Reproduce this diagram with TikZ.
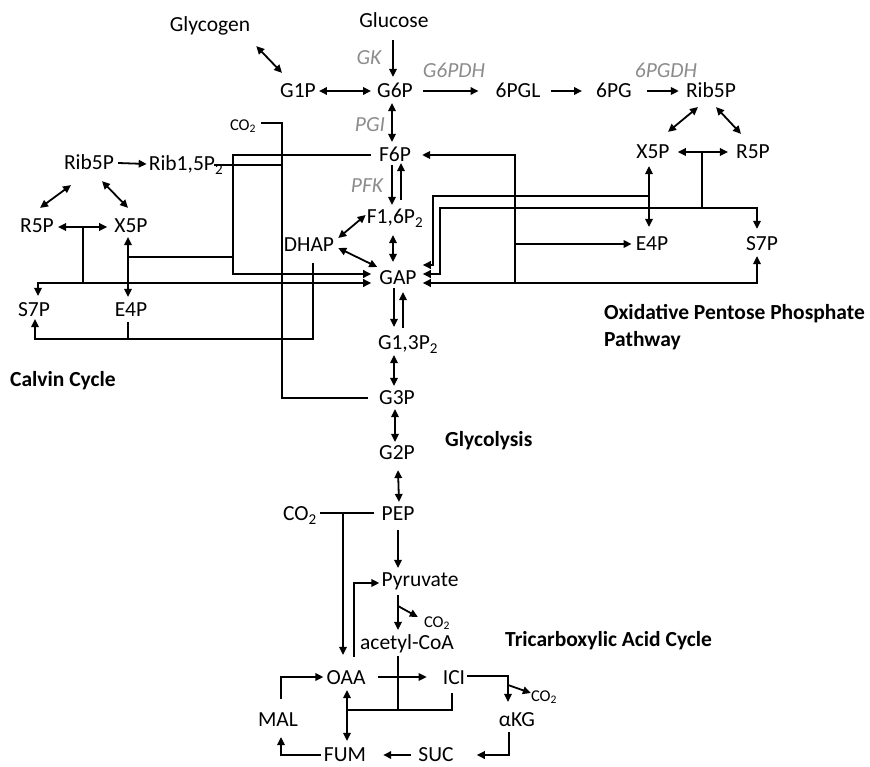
\documentclass[tikz,border=0pt]{standalone}
\usepackage{fontspec}
\setmainfont{Carlito}
\usetikzlibrary{arrows.meta,calc}
\definecolor{enzgray}{RGB}{140,140,140}
\begin{document}
\begin{tikzpicture}[x=1pt,y=-1pt,
  every node/.style={inner sep=0pt, text height=13.8pt, text depth=0pt, font=\fontsize{21.5}{24}\selectfont},
  enz/.style={text=enzgray, font=\fontsize{21.5}{24}\selectfont\itshape},
  sm/.style={font=\fontsize{16.5}{18}\selectfont, text height=10.6pt},
  lab/.style={font=\fontsize{21.5}{24}\selectfont\bfseries, anchor=west},
  ln/.style={line width=1.8pt},
  ar/.style={ln,-{Triangle[length=8pt,width=7.5pt]}},
  dar/.style={ln,{Triangle[length=8pt,width=7.5pt]}-{Triangle[length=8pt,width=7.5pt]}},
]
\useasboundingbox (0,0) rectangle (870,767);
% ---------- nodes ----------
\node (glycogen) at (210,25) {Glycogen};
\node (glucose) at (394,21) {Glucose};
\node[enz] (gk) at (369,58) {GK};
\node (g1p) at (298,91) {G1P};
\node (g6p) at (395,91) {G6P};
\node[enz] (g6pdh) at (454,71) {G6PDH};
\node (pgl) at (518,91) {6PGL};
\node (pg) at (614,91) {6PG};
\node[enz] (pgdh) at (666,71) {6PGDH};
\node (rib5pr) at (711,91) {Rib5P};
\node (x5pr) at (653,152) {X5P};
\node (r5pr) at (753,152) {R5P};
\node (e4pr) at (652,244) {E4P};
\node (s7pr) at (762,244) {S7P};
\node[enz] (pgi) at (370,125) {PGI};
\node (f6p) at (395,155) {F6P};
\node[enz] (pfk) at (367,186) {PFK};
\node (f16) at (395,217) {F1,6P\textsubscript{2}};
\node (dhap) at (309,245) {DHAP};
\node (gap) at (398,278) {GAP};
\node[sm] (co2t) at (243,125) {CO\textsubscript{2}};
\node (rib5pl) at (89,163) {Rib5P};
\node (rib15) at (186,164) {Rib1,5P\textsubscript{2}};
\node (r5pl) at (37,226) {R5P};
\node (x5pl) at (131,226) {X5P};
\node (s7pl) at (34,310) {S7P};
\node (e4pl) at (131,310) {E4P};
\node (g13) at (408,343) {G1,3P\textsubscript{2}};
\node (g3p) at (397,398) {G3P};
\node (g2p) at (397,453) {G2P};
\node (pep) at (398,514) {PEP};
\node (co2p) at (300,514) {CO\textsubscript{2}};
\node (pyr) at (420,580) {Pyruvate};
\node[sm] (co2y) at (437,622) {CO\textsubscript{2}};
\node (acoa) at (407,643) {acetyl-CoA};
\node (oaa) at (346,678) {OAA};
\node (ici) at (454,678) {ICI};
\node[sm] (co2i) at (544,696) {CO\textsubscript{2}};
\node (akg) at (517,720) {αKG};
\node (mal) at (278,720) {MAL};
\node (fum) at (345,755) {FUM};
\node (suc) at (436,755) {SUC};
\node[lab] (calvin) at (10,380) {Calvin Cycle};
\node[lab] (glyco) at (445,440) {Glycolysis};
\node[lab] (tca) at (505,640) {Tricarboxylic Acid Cycle};
\node[lab] (opp1) at (604,313) {Oxidative Pentose Phosphate};
\node[lab] (opp2) at (604,340) {Pathway};
% ---------- junction coordinates ----------
\coordinate (tr) at (702,152);
\coordinate (j2) at (440,208);
\coordinate (j3) at (649,196);
\coordinate (j4) at (433,265);
\coordinate (j5) at (515,283);
\coordinate (j6) at (515,244);
\coordinate (j7) at (35,339);
\coordinate (j8) at (233,274);
\coordinate (j9) at (233,257);
\coordinate (tl) at (83,227);
\coordinate (jc3) at (282,398);
\coordinate (jt) at (343,513);
\coordinate (jp) at (398,606);
\coordinate (ji) at (508,685);
\coordinate (jo) at (347,710);
% ---------- top ----------
\draw[ar] ([shift={(-1,12)}]glucose.south) -- ([shift={(-2,-7)}]g6p.north);
\draw[dar] ([shift={(6,14)}]glycogen.south east) -- ([shift={(2,-11)}]g1p.north west);
\draw[dar] ([shift={(3,0)}]g1p.east) -- ([shift={(-6,0)}]g6p.west);
\draw[ar] ([shift={(10,0)}]g6p.east) -- ([shift={(-17,0)}]pgl.west);
\draw[ar] ([shift={(10,0)}]pgl.east) -- ([shift={(-14,0)}]pg.west);
\draw[ar] ([shift={(15,0)}]pg.east) -- ([shift={(-7,0)}]rib5pr.west);
% ---------- pentose phosphate (right) ----------
\draw[dar] ([shift={(-13,9)}]rib5pr.south) -- ([shift={(15,-13)}]x5pr.north);
\draw[dar] ([shift={(5,9)}]rib5pr.south) -- ([shift={(-12,-11)}]r5pr.north);
\draw[dar] ([shift={(8,0)}]x5pr.east) -- ([shift={(-8,0)}]r5pr.west);
\draw[ln] (tr) -- (tr |- j2);
\draw[dar] ($(gap.east)+(6,-4)$) -| (j2) -| ([shift={(-5,-8)}]s7pr.north);
\draw[dar] ([shift={(-4,7)}]x5pr.south) -- ([shift={(-3,-10)}]e4pr.north);
\draw[ar] (j3) -| (j4) -- ($(gap.east |- j4)+(6,0)$);
\draw[dar] ($(gap.east)+(6,5)$) -| ([shift={(-5,5)}]s7pr.south);
\draw[ar] (j5) |- ($(f6p.east)+(11,0)$);
\draw[ar] (j6) -- ([shift={(-4,0)}]e4pr.west);
% ---------- glycolysis upper ----------
\draw[dar] ([shift={(-3,5)}]g6p.south) -- ([shift={(-3,-6)}]f6p.north);
\draw[ar] ([shift={(-3,3)}]f6p.south) -- ([shift={(-3,-5)}]f16.north);
\draw[ar] ([shift={(6,-10)}]f16.north) -- ([shift={(6,1)}]f6p.south);
\draw[dar] ([shift={(-2,11)}]f16.south) -- ([shift={(-5,-9)}]gap.north);
\draw[dar] ([shift={(4,-7)}]dhap.east) -- ([shift={(-1,-2)}]f16.west);
\draw[dar] ([shift={(4,3)}]dhap.east) -- ([shift={(-2,-11)}]gap.west);
% ---------- Calvin cycle (left) ----------
\draw[ar] ([shift={(4,11)}]dhap.south) |- (j7) -- ([shift={(1,2)}]s7pl.south);
\draw[ln] ([shift={(-3,5)}]e4pl.south) -- ++(0,17);
\draw[ar] ([shift={(4,0)}]rib5pl.east) -- ([shift={(-2,0)}]rib15.west);
\draw[ln] ([shift={(-9,1)}]rib15.east) -- ++(69,0);
\draw[ln] ([shift={(5,-2)}]co2t.east) -| (jc3) -- ([shift={(-11,0)}]g3p.west);
\draw[ar] ([shift={(-8,0)}]f6p.west) -| (j8) -- ($(gap.west)+(-8,-4)$);
\draw[ln] (j9) -- ++(-105,0);
\draw[dar] ([shift={(-18,15)}]rib5pl.south) -- ([shift={(3,-11)}]r5pl.north);
\draw[dar] ([shift={(13,11)}]rib5pl.south) -- ([shift={(-3,-11)}]x5pl.north);
\draw[dar] ([shift={(4,1)}]r5pl.east) -- ([shift={(-7,1)}]x5pl.west);
\draw[ln] (tl) -- ++(0,56);
\draw[dar] ([shift={(4,-7)}]s7pl.north) |- ($(gap.west)+(-8,5)$);
\draw[dar] ([shift={(-3,4)}]x5pl.south) -- ([shift={(-3,-6)}]e4pl.north);
% ---------- glycolysis lower ----------
\draw[ar] ([shift={(-4,3)}]gap.south) -- ([shift={(-14,-9)}]g13.north);
\draw[ar] ([shift={(-5,-8)}]g13.north) -- ([shift={(5,7)}]gap.south);
\draw[dar] ([shift={(-14,5)}]g13.south) -- ([shift={(-3,-5)}]g3p.north);
\draw[dar] ([shift={(-2,4)}]g3p.south) -- ([shift={(-2,-4)}]g2p.north);
\draw[dar] ([shift={(1,10)}]g2p.south) -- ([shift={(1,-5)}]pep.north);
\draw[ln] ([shift={(3,-1)}]co2p.east) -- ([shift={(-7,-1)}]pep.west);
\draw[ar] (jt) -- ([shift={(-3,-16)}]oaa.north);
\draw[ar] ([shift={(0,9)}]pep.south) -- ([shift={(-22,-5)}]pyr.north);
% ---------- TCA ----------
\draw[ar] ([shift={(8,-14)}]oaa.north) |- ([shift={(-2,3)}]pyr.west);
\draw[ar] ([shift={(-22,8)}]pyr.south) -- ([shift={(-9,-6)}]acoa.north);
\draw[ar] (jp) -- ([shift={(-6,-5)}]co2y.west);
\draw[ln] ([shift={(-9,6)}]acoa.south) -- (jo -| acoa.south -| jp);
\draw[ar] ([shift={(12,-1)}]oaa.east) -- ([shift={(-16,-1)}]ici.west);
\draw[ar] ([shift={(2,-2)}]ici.east) -| ([shift={(-9,-11)}]akg.north);
\draw[ar] (ji) -- ([shift={(0,-3)}]co2i.west);
\draw[ar] ([shift={(-8,5)}]akg.south) |- ([shift={(23,0)}]suc.east);
\draw[ar] ([shift={(-7,0)}]suc.west) -- ([shift={(17,0)}]fum.east);
\draw[ar] ([shift={(-3,0)}]fum.west) -| ([shift={(3,10)}]mal.south);
\draw[ar] ([shift={(3,-14)}]mal.north) |- ([shift={(-3,-1)}]oaa.west);
\draw[dar] ([shift={(1,5)}]oaa.south) -- ([shift={(2,-7)}]fum.north);
\draw[ln] (jo) -| ([shift={(-2,8)}]ici.south);
\end{tikzpicture}
\end{document}
